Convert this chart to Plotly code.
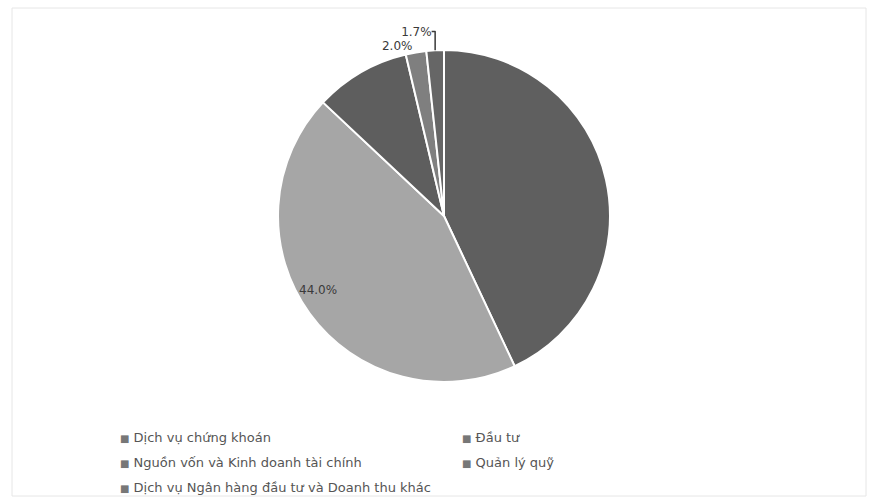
import math
import plotly.graph_objects as go

# ---- data ----
labels = [
    "Dịch vụ chứng khoán",
    "Nguồn vốn và Kinh doanh tài chính",
    "Dịch vụ Ngân hàng đầu tư và Doanh thu khác",
    "Đầu tư",
    "Quản lý quỹ",
]
values = [43.0, 44.0, 9.3, 2.0, 1.7]
shown_labels = [False, True, False, True, True]
colors = ["#5f5f5f", "#a6a6a6", "#5e5e5e", "#7f7f7f", "#666666"]

# legend layout (column-major as in the reference)
legend_cols = [[0, 1, 2], [3, 4]]

# ---- layout constants ----
W, H = 871, 500
CX, CY, R = 444, 216, 166  # pixel centre & radius of the pie

FONT = "DejaVu Sans, Liberation Sans, Arial, sans-serif"

texttemplate = ["%{percent:.1%}" if s else "" for s in shown_labels]
textposition = []
for v, s in zip(values, shown_labels):
    if s and v / sum(values) < 0.05:
        textposition.append("outside")
    else:
        textposition.append("none")  # big label drawn as annotation below

fig = go.Figure(
    go.Pie(
        labels=labels,
        values=values,
        sort=False,
        direction="clockwise",
        rotation=0,
        marker=dict(colors=colors, line=dict(color="white", width=2)),
        texttemplate=texttemplate,
        textposition=textposition,
        textfont=dict(family=FONT, size=12, color="#3a3a3a"),
        showlegend=False,
        hoverinfo="label+percent",
        domain=dict(
            x=[(CX - R) / W, (CX + R) / W],
            y=[(H - CY - R) / H, (H - CY + R) / H],
        ),
    )
)

annotations = []
# inside label for large shown slice, placed near the rim of the slice
total = sum(values)
cum = 0.0
for v, s in zip(values, shown_labels):
    start = cum
    cum += v
    frac = v / total
    if s and frac >= 0.05:
        mid = (start + v / 2 + 1.5) / total * 2 * math.pi
        rr = 0.88 * R
        px = CX + rr * math.sin(mid)
        py = CY - rr * math.cos(mid)
        annotations.append(
            dict(
                x=px / W, y=1 - py / H, xref="paper", yref="paper",
                text=f"{frac * 100:.1f}%", showarrow=False,
                font=dict(family=FONT, size=12, color="#3a3a3a"),
            )
        )

# legend as text entries
col_x = [118, 460]
row_y = [437, 462, 487]
for ci, col in enumerate(legend_cols):
    for ri, idx in enumerate(col):
        annotations.append(
            dict(
                x=col_x[ci] / W, y=1 - row_y[ri] / H, xref="paper", yref="paper",
                xanchor="left", yanchor="middle",
                text=f"<span style='color:#777777;font-size:10px'>■</span> {labels[idx]}",
                showarrow=False,
                font=dict(family=FONT, size=13, color="#555555"),
            )
        )

fig.update_layout(
    width=W,
    height=H,
    margin=dict(l=0, r=0, t=0, b=0),
    paper_bgcolor="white",
    plot_bgcolor="white",
    annotations=annotations,
    shapes=[
        dict(
            type="rect", xref="paper", yref="paper",
            x0=12 / W, x1=866 / W, y0=1 - 496 / H, y1=1 - 8 / H,
            line=dict(color="#e6e6e6", width=1),
        )
    ],
)

fig.write_html(
    "out.html",
    config={"displayModeBar": False},
    post_script="document.body.style.margin='0';",
)
